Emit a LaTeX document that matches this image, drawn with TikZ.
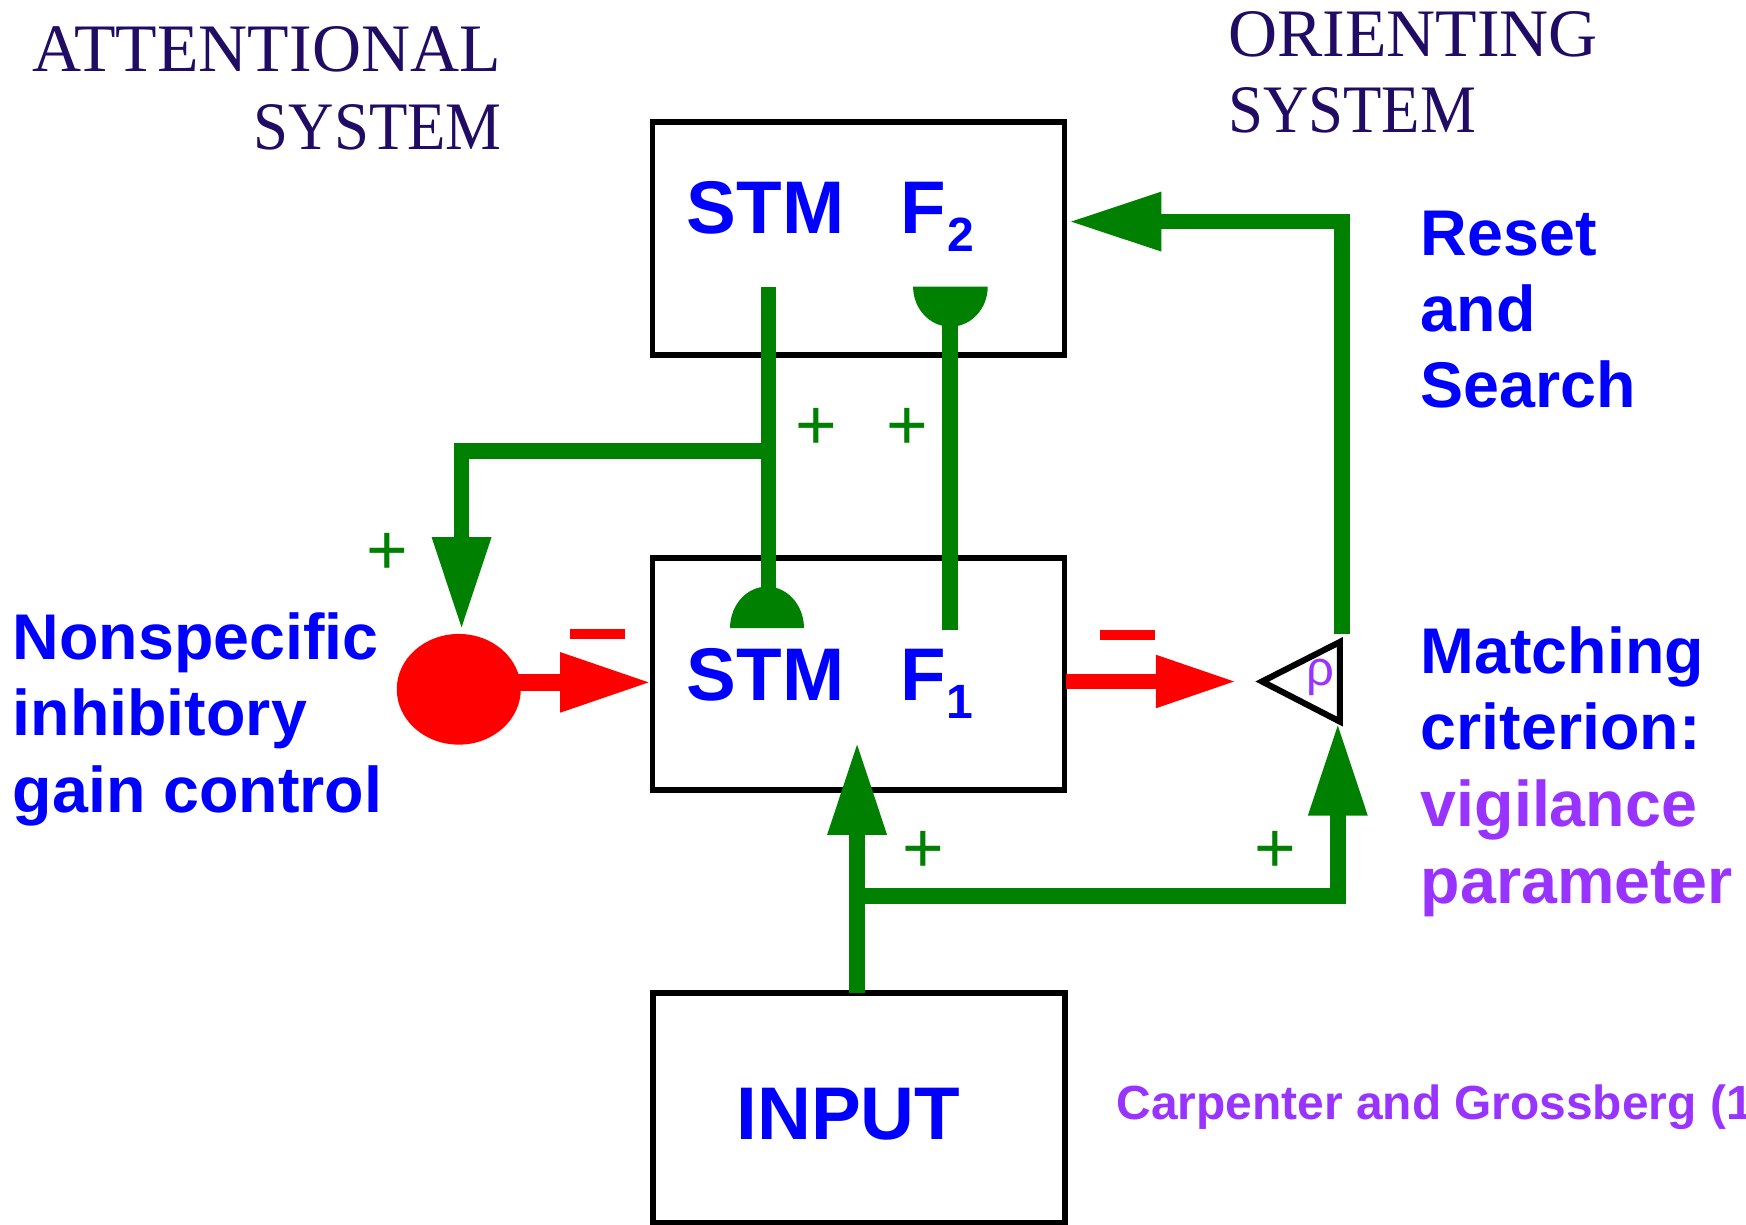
\documentclass[tikz,border=0pt]{standalone}
\usepackage{fontspec}
\setmainfont{Liberation Serif}
\setsansfont{Liberation Sans}
\usetikzlibrary{arrows.meta,shapes.geometric}
\definecolor{gr}{RGB}{0,128,0}
\definecolor{bl}{RGB}{0,0,255}
\definecolor{pu}{RGB}{153,51,255}
\definecolor{rd}{RGB}{255,0,0}
\definecolor{navy}{RGB}{32,12,100}
\begin{document}
\begin{tikzpicture}[x=0.5pt,y=-0.5pt,
  box/.style={draw=black,line width=2.6pt,minimum width=185pt,inner sep=0pt},
  lbl/.style={anchor=base west,inner sep=0pt,text=bl,font=\sffamily\bfseries\fontsize{33.5pt}{40pt}\selectfont},
  subl/.style={anchor=base west,inner sep=0pt,text=bl,font=\sffamily\bfseries\fontsize{21.6pt}{26pt}\selectfont},
  side/.style={anchor=base west,inner sep=0pt,font=\sffamily\bfseries\fontsize{29pt}{34pt}\selectfont,text=bl},
  ttl/.style={inner sep=0pt,text=navy,font=\rmfamily\fontsize{30.5pt}{34pt}\selectfont},
  plus/.style={anchor=base,inner sep=0pt,text=gr,font=\sffamily\fontsize{32pt}{32pt}\selectfont},
  gline/.style={draw=gr,line width=7pt},
  gtip/.style={-{Triangle[length=41.75pt,width=24.75pt]}},
  rtipl/.style={-{Triangle[length=41.15pt,width=24.85pt]}},
  rtipr/.style={-{Triangle[length=36.3pt,width=22pt]}},
]
\useasboundingbox (0,0) rectangle (1568,1100);

% titles
\node[ttl,anchor=base east] (att1) at (450,64.5) {ATTENTIONAL};
\node[ttl,anchor=base east] (att2) at (451,134) {\scalebox{0.925}[1]{SYSTEM}};
\node[ttl,anchor=base west] (ori1) at (1102.5,50.3) {ORIENTING};
\node[ttl,anchor=base west] (ori2) at (1102.5,119) {\scalebox{0.925}[1]{SYSTEM}};

% boxes
\node[box,minimum height=104.75pt] (F2) at (771,214.25) {};
\node[box,minimum height=104.25pt] (F1) at (771,605.25) {};
\node[box,minimum height=103.25pt] (IN) at (771.25,994.75) {};

% box labels
\node[lbl] (stm2) at (616.5,210) {STM};
\node[lbl] (f2) at (808.7,210) {F};
\node[subl] (f2s) at (850.5,226) {2};
\node[lbl] (stm1) at (616.5,629) {STM};
\node[lbl] (f1) at (808.7,629) {F};
\node[subl] (f1s) at (849.5,645) {1};
\node[lbl] (inp) at (661,1023) {INPUT};

% side texts
\node[side] (r1) at (1275.5,229) {Reset};
\node[side] (r2) at (1275.5,297.3) {and};
\node[side] (r3) at (1275.5,366) {Search};
\node[side] (m1) at (1275.5,605) {Matching};
\node[side] (m2) at (1275.5,673.5) {criterion:};
\node[side,text=pu] (m3) at (1275.5,742.5) {vigilance};
\node[side,text=pu] (m4) at (1275.5,811.6) {parameter};
\node[side] (n1) at (11,591.8) {Nonspecific};
\node[side] (n2) at (11,660.7) {inhibitory};
\node[side] (n3) at (11,729.5) {gain control};
\node[anchor=base west,inner sep=0pt,text=pu,font=\sffamily\bfseries\fontsize{21.5pt}{25pt}\selectfont] (cite) at (1002.5,1005.5) {Carpenter and Grossberg (1};

% gain control circle
\node[ellipse,fill=rd,minimum width=55.7pt,minimum height=49.7pt,inner sep=0pt] (gc) at (412,619) {};

% comparator triangle
\coordinate (tA) at (1133.4,612);
\coordinate (tT) at (1203.3,576.5);
\coordinate (tB) at (1203.3,648);
\draw[line width=2.75pt] (tA) -- (tT) -- (tB) -- cycle;
\node[anchor=base west,inner sep=0pt,text=pu,font=\sffamily\fontsize{22pt}{26pt}\selectfont] (rho) at (1172.5,615.5) {ρ};

% coordinates for connectors
\coordinate (a1) at (690,257.4);
\coordinate (a2) at (690,564);
\coordinate (b1) at (853,565.8);
\coordinate (b2) at (853,257.4);
\coordinate (br) at (690,405);
\coordinate (gctop) at (414.5,565.8);
\coordinate (gcout) at (460,612.8);
\coordinate (f1in) at (585.3,612.8);
\coordinate (f1out) at (957,612);
\coordinate (cmpin) at (1110.6,612);
\coordinate (cmpup) at (1205,569.6);
\coordinate (f2in) at (959.5,199);
\coordinate (inout) at (769.7,891.5);
\coordinate (f1bot) at (769.7,666.2);
\coordinate (jn) at (769.7,804.7);
\coordinate (cmpbot) at (1201.4,649);

% green connectors
\draw[gline] (a1) -- (a2);
\fill[gr] (722,564) arc[start angle=0,end angle=-180,x radius=33.2,y radius=37.2] -- cycle;
\draw[gline] (b1) -- (b2);
\fill[gr] (887,257.4) arc[start angle=0,end angle=180,x radius=33.5,y radius=36] -- cycle;
\draw[gline,gtip] (br) -| (gctop);
\draw[gline,gtip] (cmpup) |- (f2in);
\draw[gline,gtip] (inout) -- (f1bot);
\draw[gline,gtip] (jn) -| (cmpbot);

% red connectors
\draw[draw=rd,line width=7.5pt,rtipl] (gcout) -- (f1in);
\draw[draw=rd,line width=6.5pt,rtipr] (f1out) -- (cmpin);
\fill[rd] (512,565.2) rectangle (561,573.6);
\fill[rd] (988,566) rectangle (1037,575);

% plus signs
\node[plus] (p1) at (732.7,403.6) {+};
\node[plus] (p2) at (815,403.6) {+};
\node[plus] (p3) at (347.6,515.6) {+};
\node[plus] (p4) at (829.3,783.6) {+};
\node[plus] (p5) at (1145.3,783.6) {+};
\end{tikzpicture}
\end{document}
